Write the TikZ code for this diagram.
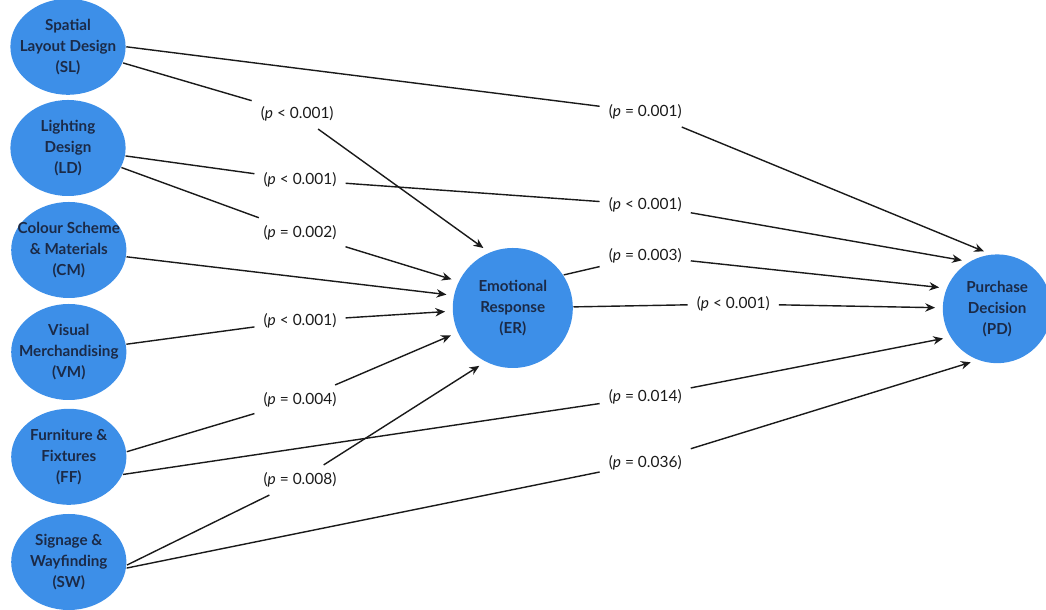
\documentclass[tikz,border=0pt]{standalone}
\usepackage{fontspec}
\setsansfont{Lato}
\usetikzlibrary{arrows.meta, shapes.geometric}
\definecolor{cblue}{HTML}{3D8FE8}
\definecolor{cnavy}{HTML}{1B2A47}
\definecolor{cink}{HTML}{1A1A1A}
\tikzset{
  every picture/.style={font=\sffamily, line width=1pt},
  factor/.style={ellipse, fill=cblue, text=cnavy, font=\sffamily\bfseries\fontsize{10.8}{15}\selectfont, align=center, inner xsep=-12pt, inner ysep=0pt, minimum width=2.88cm, minimum height=2.4cm},
  outcome/.style={circle, fill=cblue, text=cnavy, font=\sffamily\bfseries\fontsize{10.8}{15}\selectfont, align=center, inner sep=0pt, minimum size=#1},
  pval/.style={font=\sffamily\fontsize{11}{13}\selectfont, text=cink, inner xsep=6pt, inner ysep=5pt},
  link/.style={draw=cink},
  arrow/.style={-{Stealth[length=7pt, width=6pt]}, draw=cink, shorten >=5pt},
}

\begin{document}
\begin{tikzpicture}
  \useasboundingbox (0,0) rectangle (26.15,15.25);
  \node[factor] (sl) at (1.70,14.08) {Spatial\\Layout Design\\(SL)};
  \node[factor] (ld) at (1.70,11.55) {Lighting\\Design\\(LD)};
  \node[factor] (cm) at (1.72,9.00) {Colour Scheme\\\& Materials\\(CM)};
  \node[factor] (vm) at (1.72,6.45) {Visual\\Merchandising\\(VM)};
  \node[factor] (ff) at (1.72,3.83) {Furniture \&\\Fixtures\\(FF)};
  \node[factor] (sw) at (1.72,1.20) {Signage \&\\Wayfinding\\(SW)};
  \node[outcome=3cm] (er) at (12.82,7.55) {Emotional\\Response\\(ER)};
  \node[outcome=2.72cm] (pd) at (24.93,7.53) {Purchase\\Decision\\(PD)};
  \node[pval] (sler) at (7.43,12.40) {(\textit{p} < 0.001)};
  \node[pval] (slpd) at (16.13,12.45) {(\textit{p} = 0.001)};
  \node[pval] (ldpd1) at (7.50,10.75) {(\textit{p} < 0.001)};
  \node[pval] (ldpd2) at (16.13,10.13) {(\textit{p} < 0.001)};
  \node[pval] (lder) at (7.50,9.43) {(\textit{p} = 0.002)};
  \node[pval] (vmer) at (7.50,7.23) {(\textit{p} < 0.001)};
  \node[pval] (ffer) at (7.50,5.25) {(\textit{p} = 0.004)};
  \node[pval] (swer) at (7.50,3.25) {(\textit{p} = 0.008)};
  \node[pval] (erpd1) at (16.13,8.85) {(\textit{p} = 0.003)};
  \node[pval] (erpd2) at (18.33,7.65) {(\textit{p} < 0.001)};
  \node[pval] (ffpd) at (16.13,5.33) {(\textit{p} = 0.014)};
  \node[pval] (swpd) at (16.13,3.68) {(\textit{p} = 0.036)};
  \draw[link] (sl.east) -- (slpd);
  \draw[arrow] (slpd) -- (pd.97);
  \draw[link] (sl) -- (sler);
  \draw[arrow] (sler) -- (er.113);
  \draw[link] (ld) -- (ldpd1);
  \draw[link] (ldpd1) -- (ldpd2);
  \draw[arrow] (ldpd2) -- (pd.121);
  \draw[link] (ld) -- (lder);
  \draw[arrow] (lder) -- (er.154);
  \draw[arrow] (cm) -- (er.168);
  \draw[link] (vm) -- (vmer);
  \draw[arrow] (vmer) -- (er.183);
  \draw[link] (ff.5) -- (ffer);
  \draw[arrow] (ffer) -- (er.204);
  \draw[link] (ff.-18) -- (ffpd);
  \draw[arrow] (ffpd) -- (pd.211);
  \draw[link] (sw.-3) -- (swer);
  \draw[arrow] (swer) -- (er.243);
  \draw[link] (sw.-6) -- (swpd);
  \draw[arrow] (swpd) -- (pd.249);
  \draw[link] (er.33) -- (erpd1);
  \draw[arrow] (erpd1) -- (pd.158);
  \draw[link] (er) -- (erpd2);
  \draw[arrow] (erpd2) -- (pd);
\end{tikzpicture}
\end{document}
